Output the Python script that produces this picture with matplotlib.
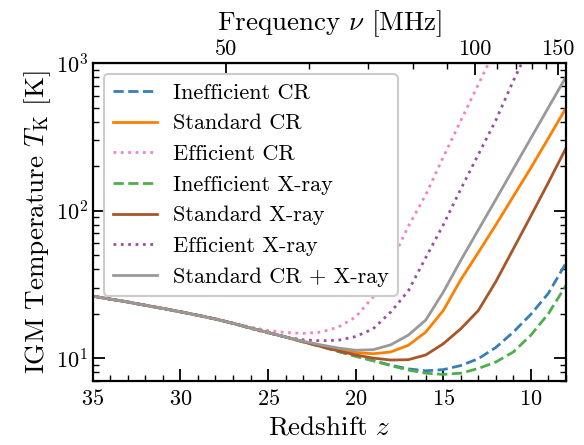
import numpy as np
import matplotlib
matplotlib.use("Agg")
import matplotlib.pyplot as plt
from matplotlib.ticker import FixedLocator, NullFormatter

plt.rcParams['font.family'] = 'serif'
plt.rcParams['font.serif'] = ['cmr10', 'DejaVu Serif']
plt.rcParams['mathtext.fontset'] = 'cm'
plt.rcParams['axes.formatter.use_mathtext'] = True

# redshift grid (35 -> 8)
z = [35, 34, 33, 32, 31, 30, 29, 28, 27, 26, 25, 24, 23, 22,
     21, 20, 19, 18, 17, 16, 15, 14, 13, 12, 11, 10, 9, 8]

nan = np.nan
T_ineff_cr = [26.3, 25.1, 24.0, 22.8, 21.7, 20.6, 19.5, 18.4, 17.2, 16.0, 14.9, 13.9, 12.9, 12.0,
              11.1, 10.3, 9.6, 8.95, 8.45, 8.2, 8.35, 8.9, 9.9, 11.8, 15.0, 19.8, 27.5, 44.0]
T_std_cr = [26.3, 25.1, 24.0, 22.8, 21.7, 20.6, 19.5, 18.4, 17.2, 16.0, 14.9, 13.9, 12.9, 12.1,
            11.4, 10.9, 10.7, 11.0, 12.2, 15.0, 21.0, 34.0, 52.0, 80.0, 125.0, 195.0, 310.0, 495.0]
T_eff_cr = [26.3, 25.1, 24.0, 22.8, 21.7, 20.6, 19.5, 18.4, 17.3, 16.2, 15.4, 14.9, 14.7, 15.0,
            16.2, 19.0, 26.0, 44.0, 78.0, 128.0, 231.0, 407.0, 717.0, 1262.0, 2200.0, nan, nan, nan]
T_ineff_xr = [26.3, 25.1, 24.0, 22.8, 21.7, 20.6, 19.5, 18.4, 17.2, 16.0, 14.9, 13.9, 12.9, 12.0,
              11.1, 10.3, 9.6, 8.9, 8.3, 7.9, 7.75, 7.9, 8.5, 9.4, 11.0, 14.3, 20.0, 31.0]
T_std_xr = [26.3, 25.1, 24.0, 22.8, 21.7, 20.6, 19.5, 18.4, 17.2, 16.0, 14.9, 13.9, 12.9, 12.0,
            11.2, 10.5, 10.0, 9.7, 9.75, 10.5, 12.5, 15.8, 21.0, 33.0, 55.0, 92.0, 155.0, 265.0]
T_eff_xr = [26.3, 25.1, 24.0, 22.8, 21.7, 20.6, 19.5, 18.4, 17.2, 15.9, 14.8, 13.9, 13.3, 13.1,
            13.2, 14.0, 15.8, 20.5, 28.5, 48.0, 80.0, 140.0, 240.0, 410.0, 760.0, 1350.0, nan, nan]
T_std_both = [26.3, 25.1, 24.0, 22.8, 21.7, 20.6, 19.5, 18.4, 17.2, 16.0, 14.9, 13.9, 13.0, 12.3,
              11.7, 11.3, 11.4, 12.3, 14.3, 18.1, 28.0, 46.0, 74.0, 119.0, 192.0, 310.0, 500.0, 805.0]

series = [
    ("Inefficient CR", T_ineff_cr, '#377eb8', '--'),
    ("Standard CR", T_std_cr, '#ff7f00', '-'),
    ("Efficient CR", T_eff_cr, '#f781bf', ':'),
    ("Inefficient X-ray", T_ineff_xr, '#4daf4a', '--'),
    ("Standard X-ray", T_std_xr, '#a65628', '-'),
    ("Efficient X-ray", T_eff_xr, '#984ea3', ':'),
    ("Standard CR + X-ray", T_std_both, '#999999', '-'),
]

NU21 = 1420.4


def z2nu(zz):
    zz = np.asarray(zz, dtype=float)
    with np.errstate(divide='ignore', invalid='ignore'):
        return NU21 / (1.0 + zz)


def nu2z(nu):
    nu = np.asarray(nu, dtype=float)
    with np.errstate(divide='ignore', invalid='ignore'):
        return NU21 / nu - 1.0


fig = plt.figure(figsize=(5.84, 4.45), dpi=100)
ax = fig.add_axes([0.159, 0.144, 0.810, 0.714])

for label, T, color, ls in series:
    ax.plot(z, T, color=color, ls=ls, lw=2, label=label)

ax.set_yscale('log')
ax.set_xlim(35, 8)
ax.set_ylim(7, 1000)
ax.set_xticks([35, 30, 25, 20, 15, 10])
ax.xaxis.set_minor_locator(FixedLocator(np.arange(8, 36, 1)))
ax.tick_params(which='both', direction='in', top=False, right=True, labelsize=16)
ax.tick_params(axis='x', pad=6)
ax.tick_params(which='major', length=8.5, width=1.3)
ax.tick_params(which='minor', length=4.5, width=1)
for s in ax.spines.values():
    s.set_linewidth(1.6)

ax.set_xlabel(r"Redshift $z$", fontsize=19.5, labelpad=5)
ax.set_ylabel(r"IGM Temperature $T_{\rm K}$ [K]", fontsize=19.5, labelpad=2)

sec = ax.secondary_xaxis('top', functions=(z2nu, nu2z))
sec.set_xticks([50, 100, 150])
sec.set_xticklabels(['50', '100', '150'])
sec.xaxis.set_minor_locator(FixedLocator([60, 70, 80, 90, 110, 120, 130, 140]))
sec.xaxis.set_minor_formatter(NullFormatter())
sec.tick_params(which='both', direction='in', labelsize=16, pad=3)
sec.tick_params(which='major', length=8.5, width=1.3)
sec.tick_params(which='minor', length=4.5, width=1)
sec.set_xlabel(r"Frequency $\nu$ [MHz]", fontsize=19.5, labelpad=7)

leg = ax.legend(loc='upper left', fontsize=16, frameon=True, fancybox=True,
                edgecolor='#cccccc', framealpha=1.0, handlelength=2.0,
                handletextpad=0.7, labelspacing=0.5, borderpad=0.4,
                borderaxespad=0.5)
leg.get_frame().set_linewidth(1.5)

fig.savefig('out.png', dpi=100)
